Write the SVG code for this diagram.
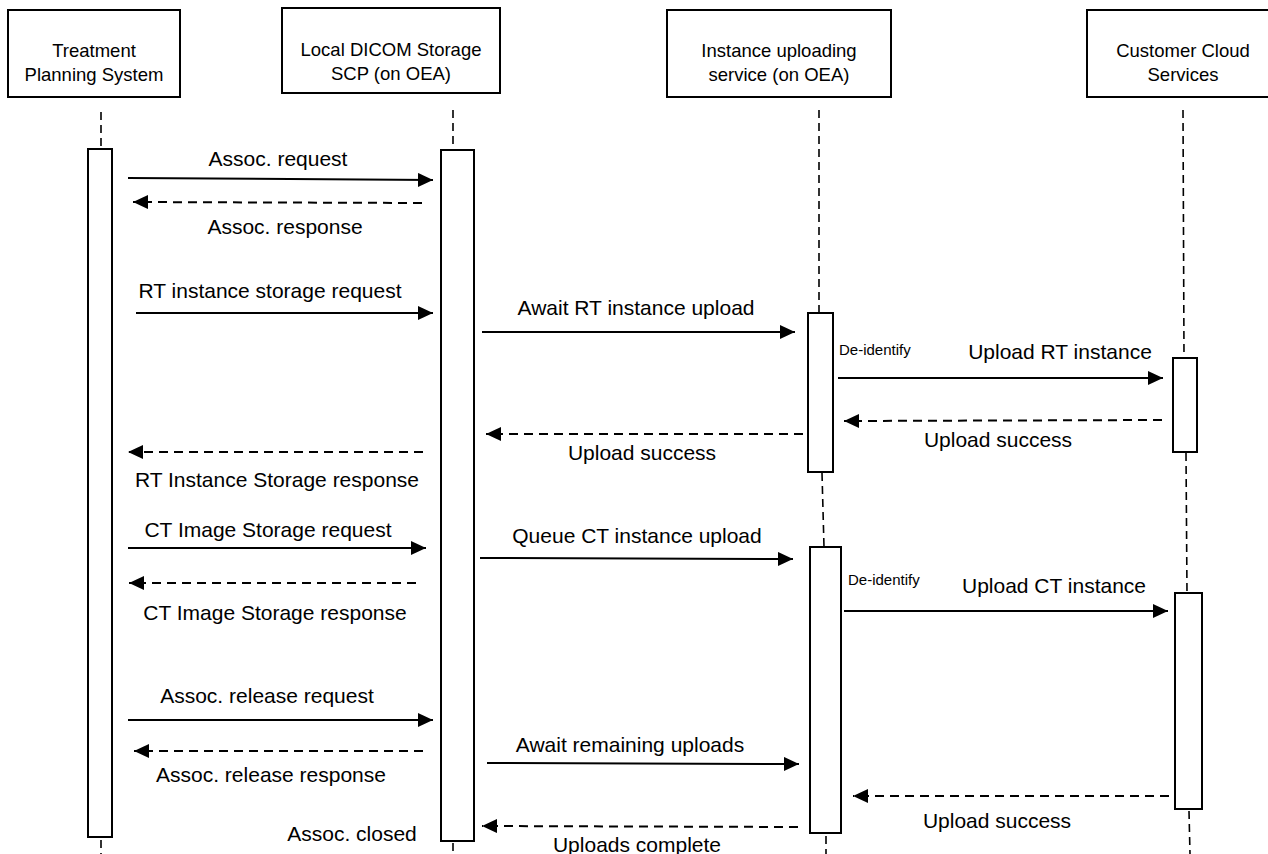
<svg xmlns="http://www.w3.org/2000/svg" width="1268" height="854" viewBox="0 0 1268 854">
<style>
text{font-family:"Liberation Sans",Arial,sans-serif;fill:#000}
.h{font-size:18.5px;text-anchor:middle}
.l{font-size:21px;text-anchor:middle}
.s{font-size:15px}
.box{fill:#fff;stroke:#000;stroke-width:2}
.life{stroke:#000;stroke-width:1.6;stroke-dasharray:8 5;fill:none}
.m{stroke:#000;stroke-width:2;fill:none;marker-end:url(#ah)}
.d{stroke-dasharray:9 6}
</style>
<defs>
<marker id="ah" markerUnits="userSpaceOnUse" markerWidth="16" markerHeight="15" refX="15" refY="7" orient="auto">
<path d="M0,0 L15,7 L0,14 z" fill="#000"/>
</marker>
</defs>
<rect width="1268" height="854" fill="#fff"/>
<g id="lifelines">
<line class="life" x1="101" y1="112" x2="101" y2="149"/>
<line class="life" x1="101" y1="840" x2="101" y2="854"/>
<line class="life" x1="453" y1="110" x2="453" y2="150"/>
<line class="life" x1="453" y1="843" x2="453" y2="854"/>
<line class="life" x1="819" y1="110" x2="819" y2="313"/>
<line class="life" x1="822" y1="473" x2="824" y2="547"/>
<line class="life" x1="826" y1="836" x2="826" y2="854"/>
<line class="life" x1="1183" y1="110" x2="1184" y2="358"/>
<line class="life" x1="1186" y1="453" x2="1187" y2="593"/>
<line class="life" x1="1189" y1="811" x2="1190" y2="854"/>
</g>
<g id="tps">
<rect class="box" x="8" y="10" width="172" height="87"/>
<text class="h" x="94" y="57">Treatment</text>
<text class="h" x="94" y="81">Planning System</text>
<rect class="box" x="88" y="149" width="24" height="688"/>
</g>
<g id="dicom">
<rect class="box" x="282" y="8" width="218" height="85"/>
<text class="h" x="391" y="56">Local DICOM Storage</text>
<text class="h" x="391" y="80">SCP (on OEA)</text>
<rect class="box" x="441" y="150" width="33" height="691"/>
</g>
<g id="uploader">
<rect class="box" x="667" y="10" width="224" height="87"/>
<text class="h" x="779" y="57">Instance uploading</text>
<text class="h" x="779" y="81">service (on OEA)</text>
<rect class="box" x="808" y="313" width="25" height="159"/>
<rect class="box" x="810" y="547" width="31" height="286"/>
<text class="s" x="839" y="355">De-identify</text>
<text class="s" x="848" y="585">De-identify</text>
</g>
<g id="cloud">
<rect class="box" x="1087" y="10" width="200" height="87"/>
<text class="h" x="1183" y="57">Customer Cloud</text>
<text class="h" x="1183" y="81">Services</text>
<rect class="box" x="1173" y="358" width="24" height="94"/>
<rect class="box" x="1175" y="593" width="27" height="216"/>
</g>
<g id="connectors">
<line class="m" x1="128" y1="178" x2="433" y2="180"/>
<line class="m d" x1="422" y1="203" x2="133" y2="202"/>
<line class="m" x1="136" y1="313" x2="433" y2="313"/>
<line class="m" x1="482" y1="332" x2="795" y2="332"/>
<line class="m" x1="838" y1="378" x2="1163" y2="378"/>
<line class="m d" x1="1162" y1="420" x2="844" y2="421"/>
<line class="m d" x1="803" y1="434" x2="486" y2="434"/>
<line class="m d" x1="423" y1="452" x2="128" y2="452"/>
<line class="m" x1="128" y1="548" x2="426" y2="548"/>
<line class="m" x1="480" y1="558" x2="793" y2="559"/>
<line class="m d" x1="416" y1="583" x2="129" y2="583"/>
<line class="m" x1="844" y1="611" x2="1168" y2="611"/>
<line class="m" x1="128" y1="720" x2="433" y2="720"/>
<line class="m d" x1="423" y1="751" x2="134" y2="751"/>
<line class="m" x1="487" y1="763" x2="799" y2="764"/>
<line class="m d" x1="1169" y1="796" x2="853" y2="796"/>
<line class="m d" x1="798" y1="827" x2="482" y2="826"/>
</g>
<g id="labels">
<text class="l" x="278" y="166">Assoc. request</text>
<text class="l" x="285" y="234">Assoc. response</text>
<text class="l" x="270" y="298">RT instance storage request</text>
<text class="l" x="636" y="315">Await RT instance upload</text>
<text class="l" x="1060" y="359">Upload RT instance</text>
<text class="l" x="998" y="447">Upload success</text>
<text class="l" x="642" y="460">Upload success</text>
<text class="l" x="277" y="487">RT Instance Storage response</text>
<text class="l" x="268" y="537">CT Image Storage request</text>
<text class="l" x="637" y="543">Queue CT instance upload</text>
<text class="l" x="1054" y="593">Upload CT instance</text>
<text class="l" x="275" y="620">CT Image Storage response</text>
<text class="l" x="267" y="703">Assoc. release request</text>
<text class="l" x="630" y="752">Await remaining uploads</text>
<text class="l" x="271" y="782">Assoc. release response</text>
<text class="l" x="997" y="828">Upload success</text>
<text class="l" x="352" y="841">Assoc. closed</text>
<text class="l" x="637" y="852">Uploads complete</text>
</g>
</svg>
